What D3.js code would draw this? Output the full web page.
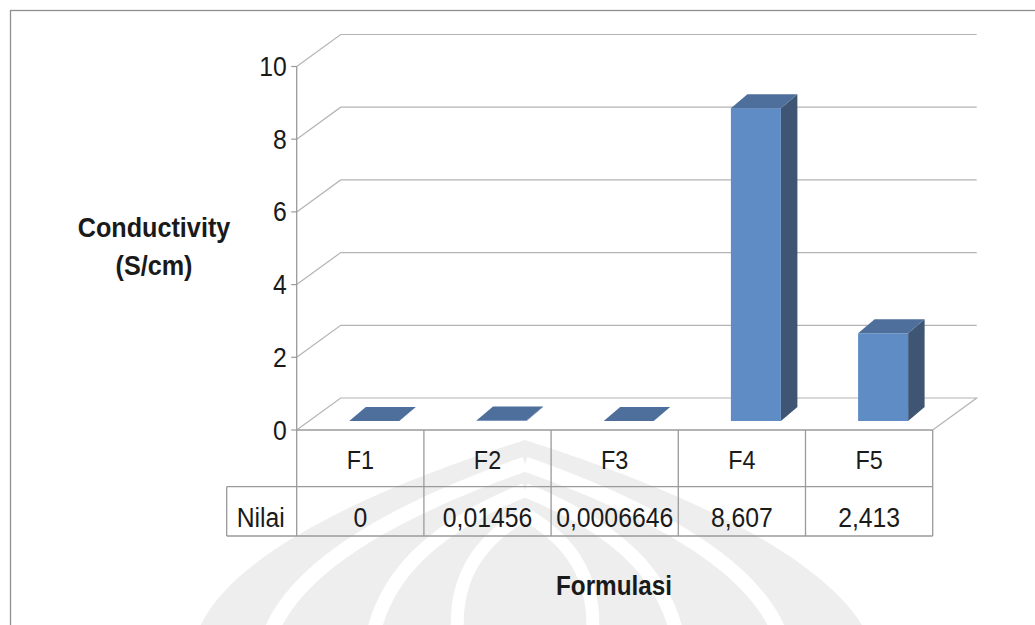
<!DOCTYPE html>
<html>
<head>
<meta charset="utf-8">
<script src="https://cdn.jsdelivr.net/npm/d3@7"></script>
<style>
  html, body { margin: 0; padding: 0; background: #fff; }
  svg { display: block; }
  text { font-family: "Liberation Sans", Arial, sans-serif; fill: #1a1a1a; }
</style>
</head>
<body>
<svg id="chart" width="1035" height="625"></svg>
<script>
// Conductivity per formulation
const categories = ["F1", "F2", "F3", "F4", "F5"];
const values = [0, 0.01456, 0.0006646, 8.607, 2.413];
const yTicks = [0, 2, 4, 6, 8, 10];
const rowLabel = "Nilai";
const yTitle = ["Conductivity", "(S/cm)"];
const xTitle = "Formulasi";

const svg = d3.select("#chart");
const W = 1035, H = 625;

// plot frame
const plotLeft = 296.7, plotRight = 932.7;
const floorY = 430, topY = 66.5;
const depth = { dx: 44, dy: -32 };          // receding wall / floor offset
const barFront = { dx: 14, dy: -9 };        // bar front plane inside floor
const barDepth = { dx: 16.5, dy: -14 };     // bar thickness
const barWidth = 50;

const x = d3.scaleBand().domain(categories).range([plotLeft, plotRight]).padding(0);
const y = d3.scaleLinear().domain([0, 10]).range([floorY, topY]);

const gridColor = "#b4b4b4";
const lineColor = "#9a9a9a";
const sx = 0.9; // horizontal squeeze of the typeface

function label(g, px, py, str, size, anchor, weight) {
  return g.append("text")
    .attr("transform", `translate(${px},${py}) scale(${sx},1)`)
    .attr("text-anchor", anchor || "middle")
    .style("font-size", size + "px")
    .style("font-weight", weight || "normal")
    .text(str);
}

// faint emblem in the background
const wm = svg.append("g");
const cx = 525;
wm.append("path")
  .attr("d", "M195,640 C220,550 400,480 525,440 C650,480 830,550 870,640 Z")
  .attr("fill", "#eeeeee");
const bands = [
  { w: 15, d: "M268,640 C292,566 400,508 525,464" },
  { w: 14, d: "M372,640 C384,576 432,528 525,490" },
  { w: 13, d: "M458,640 C452,578 480,540 525,514" }
];
bands.forEach(b => {
  wm.append("path").attr("d", b.d).attr("fill", "none").attr("stroke", "#fff").attr("stroke-width", b.w);
  // mirrored half
  wm.append("path").attr("d", b.d).attr("fill", "none").attr("stroke", "#fff").attr("stroke-width", b.w)
    .attr("transform", `translate(${2 * cx},0) scale(-1,1)`);
});

// outer chart border
svg.append("rect")
  .attr("x", 10.5).attr("y", 10.5).attr("width", W + 20).attr("height", H + 20)
  .attr("fill", "none").attr("stroke", "#8f8f8f").attr("stroke-width", 1.3);

// back wall gridlines and floor
const grid = svg.append("g");
yTicks.forEach(t => {
  const yy = y(t);
  const d = t === 0
    ? `M${plotLeft},${yy} L${plotLeft + depth.dx},${yy + depth.dy} L${plotRight + depth.dx},${yy + depth.dy} L${plotRight},${yy}`
    : `M${plotLeft},${yy} L${plotLeft + depth.dx},${yy + depth.dy} L${plotRight + depth.dx},${yy + depth.dy}`;
  grid.append("path").attr("d", d)
    .attr("fill", "none").attr("stroke", gridColor).attr("stroke-width", 1.2);
  // tick mark
  grid.append("line")
    .attr("x1", plotLeft - 5.5).attr("x2", plotLeft).attr("y1", yy).attr("y2", yy)
    .attr("stroke", lineColor).attr("stroke-width", 1.2);
  label(svg, plotLeft - 10, yy + 9.5, String(t), 27.5, "end");
});

// bars
const bars = svg.append("g");
categories.forEach((c, i) => {
  const v = values[i];
  const L = x(c) + x.bandwidth() / 2 - barWidth / 2 + barFront.dx;
  const yb = floorY + barFront.dy;
  const yt = y(v) + barFront.dy;
  const R = L + barWidth;
  // side
  bars.append("path")
    .attr("d", `M${R},${yt} L${R + barDepth.dx},${yt + barDepth.dy} L${R + barDepth.dx},${yb + barDepth.dy} L${R},${yb} Z`)
    .attr("fill", "#3e5574");
  // front
  bars.append("rect")
    .attr("x", L).attr("y", yt).attr("width", barWidth).attr("height", Math.max(0, yb - yt))
    .attr("fill", "#5f8cc4");
  // top
  bars.append("path")
    .attr("d", `M${L},${yt} L${R},${yt} L${R + barDepth.dx},${yt + barDepth.dy} L${L + barDepth.dx},${yt + barDepth.dy} Z`)
    .attr("fill", "#4e6f9b");
});

// data table
const tbl = svg.append("g");
const row1Bottom = 486.7, row2Bottom = 536, tableLeft = 226.7;
function hline(x1, x2, yy) {
  tbl.append("line").attr("x1", x1).attr("x2", x2).attr("y1", yy).attr("y2", yy)
    .attr("stroke", lineColor).attr("stroke-width", 1.3);
}
function vline(xx, y1, y2) {
  tbl.append("line").attr("x1", xx).attr("x2", xx).attr("y1", y1).attr("y2", y2)
    .attr("stroke", lineColor).attr("stroke-width", 1.3);
}
hline(plotLeft, plotRight, floorY);
hline(tableLeft, plotRight, row1Bottom);
hline(tableLeft, plotRight, row2Bottom);
vline(tableLeft, row1Bottom, row2Bottom);
vline(plotLeft, topY, row2Bottom);
categories.forEach(c => vline(x(c) + x.bandwidth(), floorY, row2Bottom));

categories.forEach((c, i) => {
  const mid = x(c) + x.bandwidth() / 2;
  label(svg, mid, 468.5, c, 26, "middle");
  label(svg, mid, 526.5, String(values[i]).replace(".", ","), 27.5, "middle");
});
label(svg, (tableLeft + plotLeft) / 2 - 1, 526.5, rowLabel, 27.5, "middle");

// axis titles
label(svg, 154, 237, yTitle[0], 28, "middle", "bold");
label(svg, 154, 274.5, yTitle[1], 28, "middle", "bold");
label(svg, 614, 595, xTitle, 27, "middle", "bold");
</script>
</body>
</html>
